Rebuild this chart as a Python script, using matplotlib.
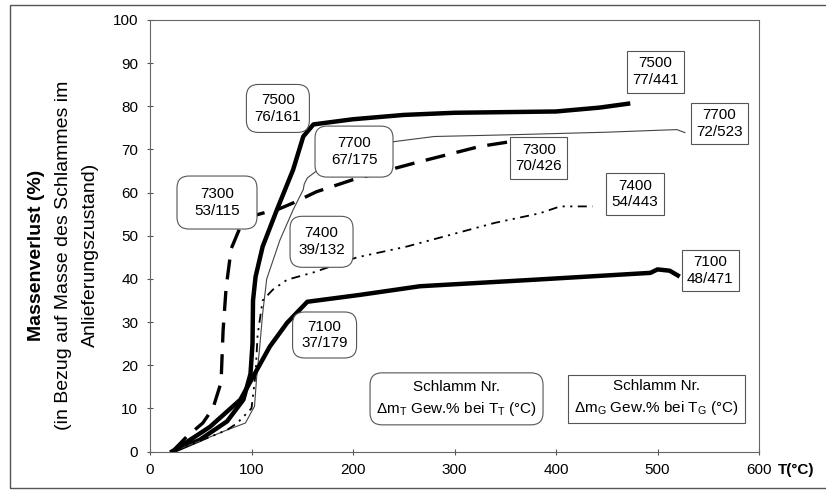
import matplotlib.pyplot as plt
from matplotlib.patches import Rectangle, FancyBboxPatch
from matplotlib.transforms import IdentityTransform

plt.rcParams['font.family'] = ['Liberation Sans', 'DejaVu Sans']
plt.rcParams['mathtext.fontset'] = 'custom'
plt.rcParams['mathtext.rm'] = 'Liberation Sans'
plt.rcParams['mathtext.it'] = 'Liberation Sans'

# Schlamm 7500 (dicke Linie)
t7500 = [22, 49, 76, 92, 99, 101, 101.5, 104, 111, 125, 141, 151, 161, 200, 250, 300, 400, 443, 471]
m7500 = [0, 2.7, 7, 12, 18, 25, 35, 40.5, 47.5, 56, 65.3, 73, 75.8, 77, 78, 78.5, 78.8, 79.7, 80.6]

# Schlamm 7700 (dünne Linie)
t7700 = [22, 50, 76, 94, 103, 105, 108, 111, 115, 128, 141, 151, 152, 155, 164, 175, 200, 240, 280, 355, 450, 519, 527]
m7700 = [0, 2.5, 5, 6.6, 10.5, 17, 24, 32, 40, 49, 56, 60.7, 62, 63.4, 65, 67, 69.5, 71.8, 73, 73.4, 74, 74.6, 73.9]

# Schlamm 7300 (gestrichelt)
t7300 = [22, 36, 52, 62, 70, 72, 75, 80, 88, 100, 115, 125, 141, 164, 200, 263, 325, 355]
m7300 = [0, 3.4, 6.6, 10, 16, 28, 38, 47, 51.5, 54.5, 55.5, 56, 57.6, 60.2, 63, 67, 70.7, 71.8]

# Schlamm 7400 (Strich-Punkt)
t7400 = [22, 50, 76, 86, 100, 104, 106, 111, 121, 135, 161, 204, 253, 302, 340, 384, 404, 436]
m7400 = [0, 2.5, 5, 6.6, 10, 18, 27, 35, 37.5, 39.8, 41.5, 45, 47.5, 50.6, 53, 55.2, 56.8, 56.8]

# Schlamm 7100 (dicke Linie)
t7100 = [22, 59, 89, 101.5, 118, 135, 155, 207, 266, 378, 493, 500, 512, 520]
m7100 = [0, 5.7, 12, 17.3, 24.3, 29.8, 34.7, 36.3, 38.3, 39.8, 41.4, 42.2, 41.9, 40.8]

labels_round = ["7500\n76/161", "7700\n67/175", "7300\n53/115", "7400\n39/132", "7100\n37/179"]
pos_round = [(126, 79.5), (201, 69.5), (66, 57.7), (169, 48.6), (172, 27)]
size_round = [(63, 48), (78, 51), (80, 53), (63, 51), (64, 46)]   # Pixel
labels_square = ["7500\n77/441", "7700\n72/523", "7300\n70/426", "7400\n54/443", "7100\n48/471"]
pos_square = [(498, 88), (561, 76), (383, 68), (478, 59.7), (552, 42)]

xticks = [0, 100, 200, 300, 400, 500, 600]
yticks = [0, 10, 20, 30, 40, 50, 60, 70, 80, 90, 100]

fig = plt.figure(figsize=(8.26, 4.91), dpi=100)
ax = fig.add_axes([150/826, 1 - 451.5/491, 609/826, 431.5/491])
ax.set_xlim(0, 600)
ax.set_ylim(0, 100)

ax.plot(t7500, m7500, color='black', linewidth=3.2, solid_joinstyle='round', zorder=3)
ax.plot(t7700, m7700, color='#444444', linewidth=0.8, zorder=3)
ax.plot(t7300, m7300, color='black', linewidth=2.4, linestyle=(0, (6, 3.5)), zorder=3)
ax.plot(t7400, m7400, color='black', linewidth=1.3, linestyle=(0, (5, 3, 1.2, 3, 1.2, 3)), zorder=3)
ax.plot(t7100, m7100, color='black', linewidth=3.2, solid_joinstyle='round', zorder=3)


def rundbox(x, y, w, h, txt, ls=1.25):
    cx, cy = ax.transData.transform((x, y))
    p = FancyBboxPatch((cx - w/2, cy - h/2), w, h, boxstyle='round,pad=0,rounding_size=12',
                       transform=IdentityTransform(), fc='white', ec='#555555', lw=0.8, zorder=4)
    ax.add_artist(p)
    ax.text(x, y, txt, ha='center', va='center', fontsize=11, linespacing=ls, zorder=5)


for txt, (x, y), (w, h) in zip(labels_round, pos_round, size_round):
    rundbox(x, y, w, h, txt)
for txt, (x, y) in zip(labels_square, pos_square):
    ax.text(x, y, txt, ha='center', va='center', fontsize=11, linespacing=1.25, zorder=5,
            bbox=dict(boxstyle='square,pad=0.35', fc='white', ec='#555555', lw=0.8))

rundbox(302, 12.2, 173, 52, "Schlamm Nr.\n$\\Delta$m$_\\mathrm{T}$ Gew.% bei T$_\\mathrm{T}$ (°C)", ls=1.5)
ax.text(499, 12.4, "Schlamm Nr.\n$\\Delta$m$_\\mathrm{G}$ Gew.% bei T$_\\mathrm{G}$ (°C)",
        ha='center', va='center', fontsize=11, linespacing=1.5, zorder=5,
        bbox=dict(boxstyle='square,pad=0.4', fc='white', ec='#555555', lw=0.8))

ax.set_xticks(xticks)
ax.set_yticks(yticks)
ax.tick_params(direction='inout', length=5, width=0.8, color='#555555', labelsize=11, pad=6)
for s in ax.spines.values():
    s.set_color('#666666')
    s.set_linewidth(0.8)

fig.text(37/826, 0.48, "Massenverlust (%)", rotation=90, ha='center', va='center',
         fontsize=14, fontweight='bold')
fig.text(63/826, 0.48, "(in Bezug auf Masse des Schlammes im", rotation=90, ha='center',
         va='center', fontsize=14)
fig.text(90/826, 0.48, "Anlieferungszustand)", rotation=90, ha='center', va='center', fontsize=14)
fig.text(796/826, 1 - 470/491, "T(°C)", ha='center', va='center', fontsize=11, fontweight='bold')

fig.patches.append(Rectangle((10/826, 3/491), 1.0, 1 - 8/491, transform=fig.transFigure,
                             fill=False, ec='#555555', lw=1.0))

fig.savefig("out.png", dpi=100)
